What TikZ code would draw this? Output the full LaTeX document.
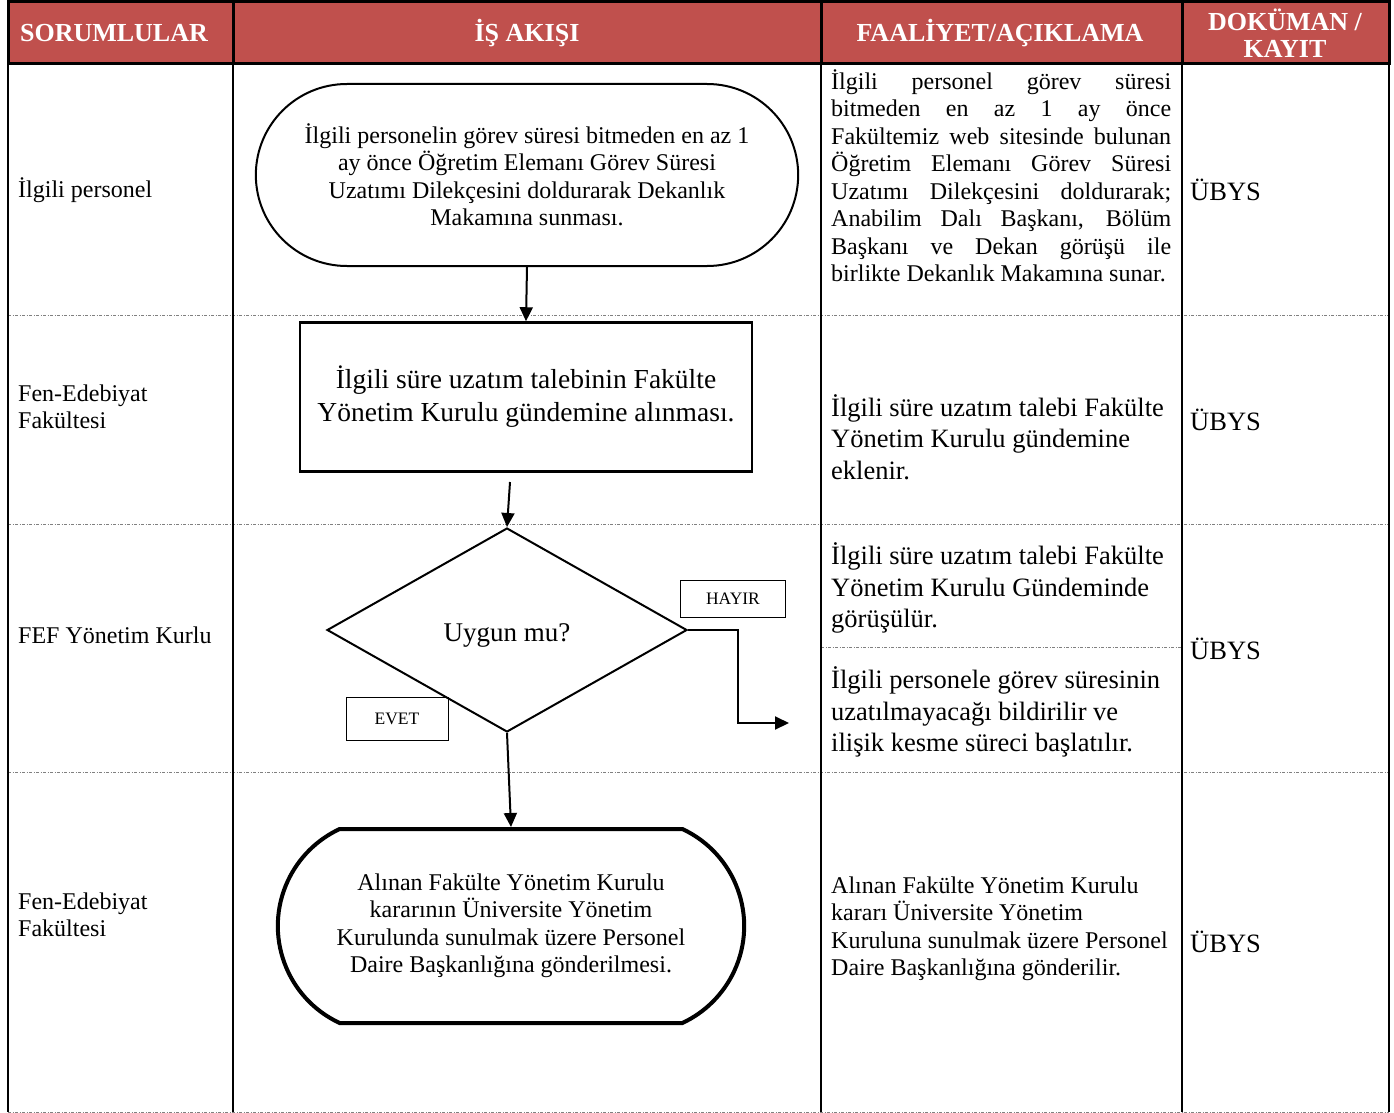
\documentclass[tikz,border=0pt]{standalone}
\usepackage{fontspec}
\setmainfont{Liberation Serif}
\usepackage{xcolor}
\usetikzlibrary{arrows.meta, shapes.geometric, shapes.misc}
\definecolor{headred}{HTML}{C0504D}

\begin{document}
\begin{tikzpicture}[x=1pt, y=-1pt,
    >={Triangle[length=14pt, width=13pt]},
    hdr/.style={text=white, align=center, font=\fontsize{26}{27}\selectfont\bfseries},
    txt/.style={anchor=west, inner sep=0pt, align=left, font=\fontsize{24}{27.5}\selectfont},
    txtbig/.style={anchor=west, inner sep=0pt, align=left, font=\fontsize{26.5}{31.5}\selectfont},
    tagbox/.style={draw, line width=0.8pt, inner sep=0pt, font=\fontsize{17.5}{20}\selectfont},
    rowsep/.style={gray, line width=0.8pt, dash pattern=on 3pt off 1.5pt on 1pt off 1.5pt},
    flow/.style={->, line width=2pt}]
                        \useasboundingbox (0,0) rectangle (1394,1113);
                        \fill[headred] (8,2) rectangle (1389,64);
                        \draw[rowsep] (8,315) -- (1389,315) (8,524) -- (1389,524) (8,772) -- (1389,772)
                        (8,1112) -- (1389,1112) (821,647) -- (1182,647);
                        \draw[line width=1.5pt] (8,64) -- (8,1112) (233,64) -- (233,1112) (821,64) -- (821,1112)
                        (1182,64) -- (1182,1112) (1389,64) -- (1389,1112);
                        \draw[line width=3pt] (8,2) rectangle (1389,64) (233,2) -- (233,64) (821,2) -- (821,64) (1182,2) -- (1182,64);
                        \node[hdr] (hsor) at (114,33) {SORUMLULAR};
                        \node[hdr] (hakis) at (527,33) {İŞ AKIŞI};
                        \node[hdr] (hfaal) at (1000,33) {FAALİYET/AÇIKLAMA};
                        \node[hdr] (hdok) at (1285,33) {DOKÜMAN /\\KAYIT};
                        \node[txt] (kisi1) at (18,190) {İlgili personel};
                        \node[txt] (kisi2) at (18,407) {Fen-Edebiyat\\Fakültesi};
                        \node[txt] (kisi3) at (18,635) {FEF Yönetim Kurlu};
                        \node[txt] (kisi4) at (18,915) {Fen-Edebiyat\\Fakültesi};
                        \node[draw, rounded rectangle, line width=2pt, minimum width=549, minimum height=182, align=center,
                        font=\fontsize{24}{27.5}\selectfont] (dilekce) at (527,175)
                        {İlgili personelin görev süresi bitmeden en az 1\\ay önce Öğretim Elemanı Görev Süresi\\Uzatımı Dilekçesini doldurarak Dekanlık\\Makamına sunması.};
                        \node[draw, line width=2.5pt, minimum width=452, minimum height=149, align=center,
                        font=\fontsize{27.5}{33}\selectfont] (gundem) at (526,397)
                        {İlgili süre uzatım talebinin Fakülte\\Yönetim Kurulu gündemine alınması.};
                        \node[draw, diamond, aspect=1.765, line width=2pt, minimum width=360, minimum height=204, inner sep=0pt,
                        text height=29pt, font=\fontsize{27}{30}\selectfont] (uygun) at (507,630) {Uygun mu?};
                        \node[tagbox, minimum width=105, minimum height=37] (hayir) at (733,599) {HAYIR};
                        \node[tagbox, minimum width=102, minimum height=43] (evet) at (397,719) {EVET};
                        \node[draw, rounded rectangle, rounded rectangle arc length=130, line width=4pt, minimum width=473,
                        minimum height=194, align=center, font=\fontsize{24}{27.5}\selectfont] (karar) at (511,926)
                        {Alınan Fakülte Yönetim Kurulu\\kararının Üniversite Yönetim\\Kurulunda sunulmak üzere Personel\\Daire Başkanlığına gönderilmesi.};
                        \coordinate (gundemout) at (510,482);
                        \coordinate (hayirout) at (789,723);
                        \draw[flow] (dilekce.south) -- (gundem.north);
                        \draw[flow] (gundemout) -- (uygun.north);
                        \draw[flow] (uygun.south) -- (karar.north);
                        \draw[flow] (uygun.east) -- ++(50,0) |- (hayirout);
                        \node[txt, text width=340, align=justify] (acik1) at (831,176)
                        {İlgili personel görev süresi\linebreak bitmeden en az 1 ay önce\linebreak Fakültemiz web sitesinde bulunan\linebreak
                        Öğretim Elemanı Görev Süresi\linebreak Uzatımı Dilekçesini doldurarak;\linebreak Anabilim Dalı Başkanı, Bölüm\linebreak
                        Başkanı ve Dekan görüşü ile\linebreak birlikte Dekanlık Makamına sunar.};
                        \node[txtbig] (acik2) at (831,437) {İlgili süre uzatım talebi Fakülte\\Yönetim Kurulu gündemine\\eklenir.};
                        \node[txtbig] (acik3) at (831,588) {İlgili süre uzatım talebi Fakülte\\Yönetim Kurulu Gündeminde\\görüşülür.};
                        \node[txtbig] (acik4) at (831,712) {İlgili personele görev süresinin\\uzatılmayacağı bildirilir ve\\ilişik kesme süreci başlatılır.};
                        \node[txt] (acik5) at (831,929) {Alınan Fakülte Yönetim Kurulu\\kararı Üniversite Yönetim\\Kuruluna sunulmak üzere Personel\\Daire Başkanlığına gönderilir.};
                        \node[txtbig] (kayit1) at (1190,190) {ÜBYS};
                        \node[txtbig] (kayit2) at (1190,420) {ÜBYS};
                        \node[txtbig] (kayit3) at (1190,649) {ÜBYS};
                        \node[txtbig] (kayit4) at (1190,942) {ÜBYS};
                    \end{tikzpicture}
\end{document}
